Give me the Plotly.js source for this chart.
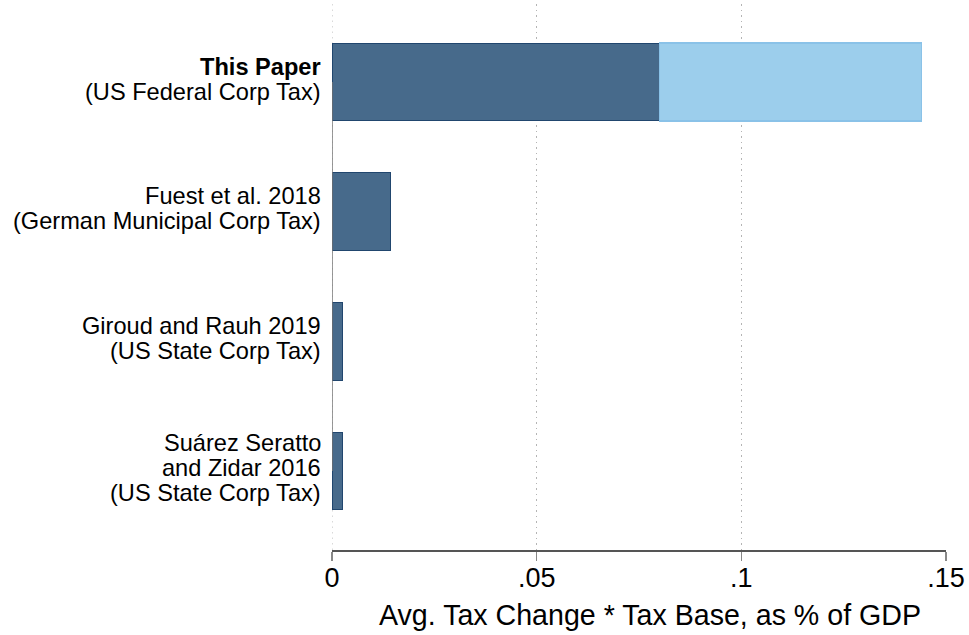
<!DOCTYPE html>
<html>
<head>
<meta charset="utf-8">
<script src="https://cdn.plot.ly/plotly-3.0.1.min.js"></script>
<style>html,body{margin:0;padding:0;background:#fff;}#chart{width:969px;height:635px;}</style>
</head>
<body>
<div id="chart"></div>
<script>
// ---- data ----
const studies = ["This Paper", "Fuest et al. 2018", "Giroud and Rauh 2019", "Suárez Seratto and Zidar 2016"];
const labelLines = [
  ["<b>This Paper</b>", "(US Federal Corp Tax)"],
  ["Fuest et al. 2018", "(German Municipal Corp Tax)"],
  ["Giroud and Rauh 2019", "(US State Corp Tax)"],
  ["Suárez Seratto", "and Zidar 2016", "(US State Corp Tax)"]
];
const baseValues = [0.080, 0.0143, 0.0025, 0.0025];       // dark bars
const upperExtra = [0.064, null, null, null];              // light extension (to 0.144)
const xTickVals = [0, 0.05, 0.10, 0.15];
const xTickText = ["0", ".05", ".1", ".15"];
const xTitle = "Avg. Tax Change * Tax Base, as % of GDP";

const FONT = "Liberation Sans, Arial, Helvetica, sans-serif";

const traces = [
  {
    type: "bar", orientation: "h", y: studies, x: baseValues, width: 0.6,
    marker: {color: "rgb(71,106,139)", line: {color: "rgb(33,70,110)", width: 1}},
    hoverinfo: "x+y", showlegend: false
  },
  {
    type: "bar", orientation: "h", y: studies, x: upperExtra, width: 0.6,
    marker: {color: "rgb(156,206,236)", line: {color: "rgb(138,194,232)", width: 1.5}},
    hoverinfo: "x+y", showlegend: false
  }
];

const annotations = [];
const lineGap = 25;
labelLines.forEach((lines, i) => {
  const n = lines.length;
  lines.forEach((t, k) => {
    const off = -2.7 + (k - (n - 1) / 2) * lineGap;
    annotations.push({
      xref: "x", yref: "y", x: 0, y: studies[i],
      text: t, showarrow: false, xanchor: "right", yanchor: "middle",
      xshift: -9, yshift: -off,
      font: {family: FONT, size: 23.6, color: "#000"}
    });
  });
});
annotations.push({
  xref: "paper", yref: "paper", x: 0.518, y: 0, xanchor: "center", yanchor: "middle",
  yshift: -65, text: xTitle, showarrow: false,
  font: {family: FONT, size: 28.6, color: "#000"}
});

const layout = {
  width: 969, height: 635,
  margin: {l: 332, r: 23, t: 4, b: 85},
  paper_bgcolor: "#fff", plot_bgcolor: "#fff",
  barmode: "stack",
  font: {family: FONT, color: "#000"},
  xaxis: {
    range: [0, 0.15], tickvals: xTickVals, ticktext: xTickText,
    showgrid: true, gridcolor: "#b4b4b4", gridwidth: 1, griddash: "1.5px,4px",
    zeroline: false, showline: true, linecolor: "#555", linewidth: 2,
    ticks: "outside", ticklen: 9, tickcolor: "#888", tickwidth: 1.2,
    ticklabelstandoff: -6,
    tickfont: {family: FONT, size: 27, color: "#000"},
    fixedrange: true
  },
  yaxis: {
    type: "category", range: [3.609, -0.6015],
    showticklabels: false, ticks: "", showgrid: false, zeroline: false, showline: false,
    fixedrange: true
  },
  shapes: [
    {
      type: "line", xref: "x", yref: "paper", x0: 0, x1: 0, y0: 0, y1: 1,
      line: {color: "#b4b4b4", width: 1, dash: "1.5px,4px"}, layer: "below"
    },
    {
      type: "line", xref: "x", yref: "y", x0: 0, x1: 0, y0: studies[0], y1: studies[studies.length - 1],
      line: {color: "#777", width: 1.5}, layer: "above"
    }
  ],
  annotations: annotations
};

Plotly.newPlot("chart", traces, layout, {displayModeBar: false, staticPlot: true});
</script>
</body>
</html>
